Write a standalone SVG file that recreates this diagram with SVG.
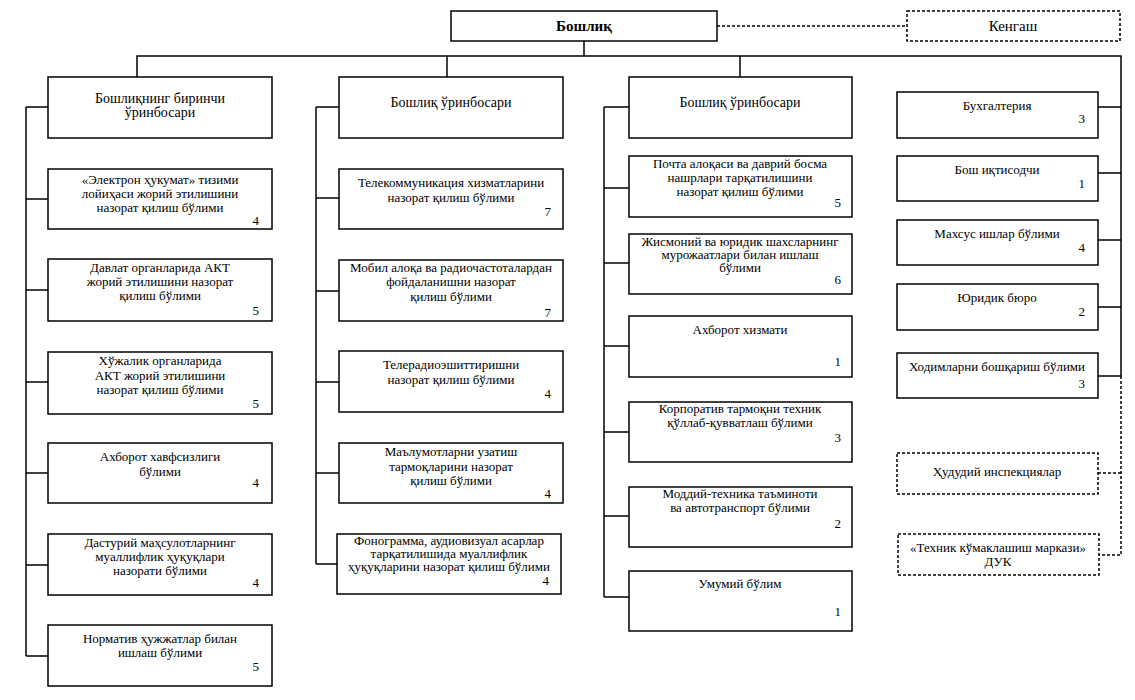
<svg xmlns="http://www.w3.org/2000/svg" width="1135" height="700" viewBox="0 0 1135 700">
<style>
.box{fill:#fff;stroke:#000;stroke-width:1.5}
.dbox{fill:#fff;stroke:#000;stroke-width:1.5;stroke-dasharray:3 2}
.ln{fill:none;stroke:#000;stroke-width:1.5}
.dl{fill:none;stroke:#000;stroke-width:1.5;stroke-dasharray:3 2}
.t{font-size:13px;text-anchor:middle}
.h{font-size:14px;text-anchor:middle}
.n{font-size:13px;text-anchor:end}
</style>
<rect width="1135" height="700" fill="#fff"/>
<g id="connectors">
<line class="dl" x1="717" y1="26" x2="907" y2="26"/>
<line class="ln" x1="584" y1="41" x2="584" y2="56"/>
<polyline class="ln" points="137,77 137,56 1121,56 1121,376"/>
<line class="ln" x1="447" y1="56" x2="447" y2="77"/>
<line class="ln" x1="740" y1="56" x2="740" y2="77"/>
<polyline class="dl" points="1121,376 1121,555 1099,555"/>
<line class="dl" x1="1098" y1="473" x2="1121" y2="473"/>
<line class="ln" x1="1098" y1="107" x2="1121" y2="107"/>
<line class="ln" x1="1098" y1="173" x2="1121" y2="173"/>
<line class="ln" x1="1098" y1="240" x2="1121" y2="240"/>
<line class="ln" x1="1098" y1="307" x2="1121" y2="307"/>
<line class="ln" x1="1098" y1="376" x2="1121" y2="376"/>
<line class="ln" x1="26" y1="107" x2="26" y2="656"/>
<line class="ln" x1="26" y1="107" x2="48" y2="107"/>
<line class="ln" x1="26" y1="199" x2="48" y2="199"/>
<line class="ln" x1="26" y1="290" x2="48" y2="290"/>
<line class="ln" x1="26" y1="382" x2="48" y2="382"/>
<line class="ln" x1="26" y1="473" x2="48" y2="473"/>
<line class="ln" x1="26" y1="565" x2="48" y2="565"/>
<line class="ln" x1="26" y1="656" x2="48" y2="656"/>
<line class="ln" x1="316" y1="107" x2="316" y2="564"/>
<line class="ln" x1="316" y1="107" x2="339" y2="107"/>
<line class="ln" x1="316" y1="198" x2="339" y2="198"/>
<line class="ln" x1="316" y1="291" x2="339" y2="291"/>
<line class="ln" x1="316" y1="382" x2="339" y2="382"/>
<line class="ln" x1="316" y1="473" x2="339" y2="473"/>
<line class="ln" x1="316" y1="564" x2="337" y2="564"/>
<line class="ln" x1="604" y1="107" x2="604" y2="597"/>
<line class="ln" x1="604" y1="107" x2="629" y2="107"/>
<line class="ln" x1="604" y1="188" x2="629" y2="188"/>
<line class="ln" x1="604" y1="263" x2="629" y2="263"/>
<line class="ln" x1="604" y1="346" x2="629" y2="346"/>
<line class="ln" x1="604" y1="432" x2="629" y2="432"/>
<line class="ln" x1="604" y1="516" x2="629" y2="516"/>
<line class="ln" x1="604" y1="597" x2="629" y2="597"/>
</g>
<g font-family="'Liberation Serif', 'Times New Roman', Tinos, 'DejaVu Serif', serif" fill="#000">
<g id="boshliq"><rect class="box" x="451" y="11" width="266" height="30"/><text x="584" y="31" text-anchor="middle" font-size="15" font-weight="bold">Бошлиқ</text></g>
<g id="kengash"><rect class="dbox" x="907" y="11" width="213" height="30"/><text x="1013" y="31" text-anchor="middle" font-size="15">Кенгаш</text></g>

<g id="c1h"><rect class="box" x="48" y="77" width="224" height="61"/><text class="h" x="160" y="103">Бошлиқнинг биринчи</text><text class="h" x="160" y="117">ўринбосари</text></g>
<g id="c1b1"><rect class="box" x="48" y="169" width="224" height="60"/><text class="t" x="160" y="184">«Электрон ҳукумат» тизими</text><text class="t" x="160" y="198">лойиҳаси жорий этилишини</text><text class="t" x="160" y="212">назорат қилиш бўлими</text><text class="n" x="259" y="225">4</text></g>
<g id="c1b2"><rect class="box" x="48" y="259" width="224" height="62"/><text class="t" x="160" y="272">Давлат органларида АКТ</text><text class="t" x="160" y="286">жорий этилишини назорат</text><text class="t" x="160" y="300">қилиш бўлими</text><text class="n" x="259" y="315">5</text></g>
<g id="c1b3"><rect class="box" x="48" y="352" width="224" height="62"/><text class="t" x="160" y="365">Хўжалик органларида</text><text class="t" x="160" y="380">АКТ жорий этилишини</text><text class="t" x="160" y="394">назорат қилиш бўлими</text><text class="n" x="259" y="408">5</text></g>
<g id="c1b4"><rect class="box" x="48" y="443" width="224" height="60"/><text class="t" x="160" y="461">Ахборот хавфсизлиги</text><text class="t" x="160" y="476">бўлими</text><text class="n" x="259" y="487">4</text></g>
<g id="c1b5"><rect class="box" x="48" y="534" width="224" height="61"/><text class="t" x="160" y="547">Дастурий маҳсулотларнинг</text><text class="t" x="160" y="561">муаллифлик ҳуқуқлари</text><text class="t" x="160" y="575">назорати бўлими</text><text class="n" x="259" y="587">4</text></g>
<g id="c1b6"><rect class="box" x="48" y="625" width="224" height="61"/><text class="t" x="160" y="643">Норматив ҳужжатлар билан</text><text class="t" x="160" y="657">ишлаш бўлими</text><text class="n" x="259" y="671">5</text></g>

<g id="c2h"><rect class="box" x="339" y="77" width="224" height="61"/><text class="h" x="451" y="107">Бошлиқ ўринбосари</text></g>
<g id="c2b1"><rect class="box" x="339" y="169" width="224" height="60"/><text class="t" x="451" y="187">Телекоммуникация хизматларини</text><text class="t" x="451" y="202">назорат қилиш бўлими</text><text class="n" x="551" y="216">7</text></g>
<g id="c2b2"><rect class="box" x="339" y="260" width="224" height="61"/><text class="t" x="451" y="272">Мобил алоқа ва радиочастоталардан</text><text class="t" x="451" y="286">фойдаланишни назорат</text><text class="t" x="451" y="301">қилиш бўлими</text><text class="n" x="551" y="317">7</text></g>
<g id="c2b3"><rect class="box" x="339" y="351" width="224" height="61"/><text class="t" x="451" y="369">Телерадиоэшиттиришни</text><text class="t" x="451" y="384">назорат қилиш бўлими</text><text class="n" x="551" y="398">4</text></g>
<g id="c2b4"><rect class="box" x="339" y="443" width="224" height="60"/><text class="t" x="451" y="456">Маълумотларни узатиш</text><text class="t" x="451" y="471">тармоқларини назорат</text><text class="t" x="451" y="485">қилиш бўлими</text><text class="n" x="551" y="498">4</text></g>
<g id="c2b5"><rect class="box" x="337" y="534" width="224" height="60"/><text class="t" x="449" y="545">Фонограмма, аудиовизуал асарлар</text><text class="t" x="449" y="558">тарқатилишида муаллифлик</text><text class="t" x="449" y="571">ҳуқуқларини назорат қилиш бўлими</text><text class="n" x="549" y="585">4</text></g>

<g id="c3h"><rect class="box" x="629" y="77" width="223" height="61"/><text class="h" x="740" y="107">Бошлиқ ўринбосари</text></g>
<g id="c3b1"><rect class="box" x="629" y="156" width="223" height="61"/><text class="t" x="740" y="168">Почта алоқаси ва даврий босма</text><text class="t" x="740" y="182">нашрлари тарқатилишини</text><text class="t" x="740" y="196">назорат қилиш бўлими</text><text class="n" x="841" y="207">5</text></g>
<g id="c3b2"><rect class="box" x="629" y="234" width="223" height="60"/><text class="t" x="740" y="246">Жисмоний ва юридик шахсларнинг</text><text class="t" x="740" y="259">мурожаатлари билан ишлаш</text><text class="t" x="740" y="272">бўлими</text><text class="n" x="841" y="284">6</text></g>
<g id="c3b3"><rect class="box" x="629" y="316" width="223" height="61"/><text class="t" x="740" y="334">Ахборот хизмати</text><text class="n" x="841" y="366">1</text></g>
<g id="c3b4"><rect class="box" x="629" y="402" width="223" height="60"/><text class="t" x="740" y="413">Корпоратив тармоқни техник</text><text class="t" x="740" y="427">қўллаб-қувватлаш бўлими</text><text class="n" x="841" y="442">3</text></g>
<g id="c3b5"><rect class="box" x="629" y="487" width="223" height="60"/><text class="t" x="740" y="498">Моддий-техника таъминоти</text><text class="t" x="740" y="512">ва автотранспорт бўлими</text><text class="n" x="841" y="528">2</text></g>
<g id="c3b6"><rect class="box" x="629" y="571" width="223" height="60"/><text class="t" x="740" y="588">Умумий бўлим</text><text class="n" x="841" y="616">1</text></g>

<g id="c4b1"><rect class="box" x="897" y="92" width="201" height="46"/><text class="t" x="997" y="110">Бухгалтерия</text><text class="n" x="1085" y="123">3</text></g>
<g id="c4b2"><rect class="box" x="897" y="156" width="201" height="45"/><text class="t" x="997" y="174">Бош иқтисодчи</text><text class="n" x="1085" y="188">1</text></g>
<g id="c4b3"><rect class="box" x="897" y="220" width="201" height="45"/><text class="t" x="997" y="238">Махсус ишлар бўлими</text><text class="n" x="1085" y="252">4</text></g>
<g id="c4b4"><rect class="box" x="897" y="284" width="201" height="46"/><text class="t" x="997" y="302">Юридик бюро</text><text class="n" x="1085" y="316">2</text></g>
<g id="c4b5"><rect class="box" x="897" y="353" width="201" height="45"/><text class="t" x="997" y="371">Ходимларни бошқариш бўлими</text><text class="n" x="1085" y="388">3</text></g>
<g id="c4d1"><rect class="dbox" x="897" y="453" width="201" height="41"/><text class="t" x="997" y="476">Ҳудудий инспекциялар</text></g>
<g id="c4d2"><rect class="dbox" x="898" y="534" width="201" height="41"/><text class="t" x="998" y="552">«Техник кўмаклашиш маркази»</text><text class="t" x="998" y="566">ДУК</text></g>
</g>
</svg>
